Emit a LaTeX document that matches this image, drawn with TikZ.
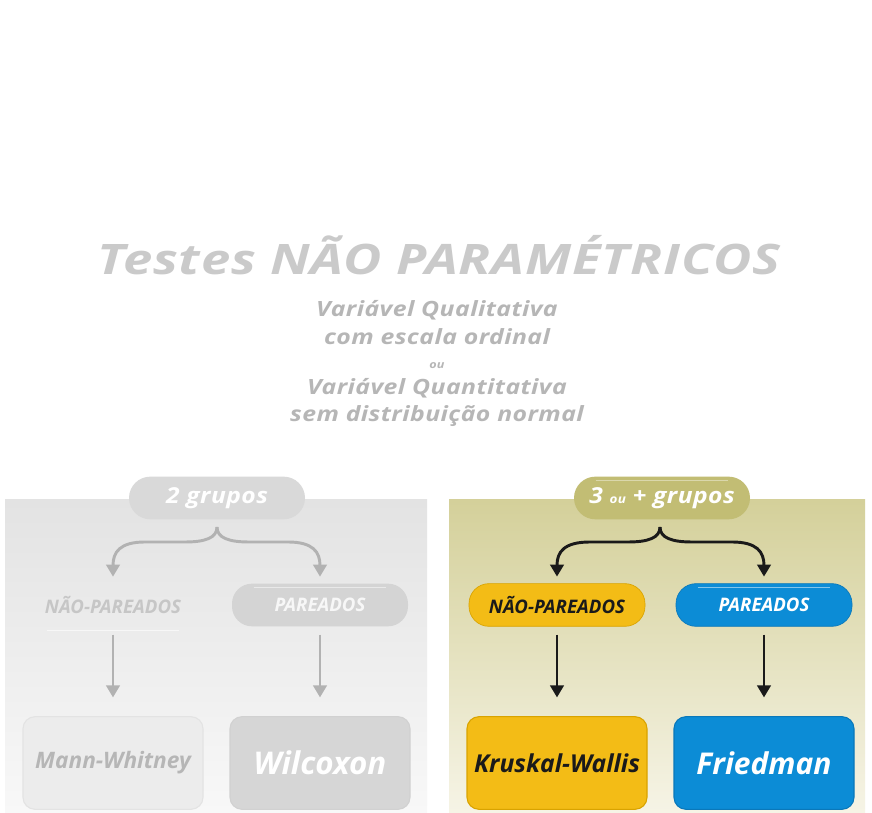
\documentclass[tikz,border=0pt]{standalone}
\usepackage{fontspec}
\setmainfont{Open Sans}
\newfontfamily\titlef[FakeStretch=1.25,LetterSpace=2]{Open Sans}
\newfontfamily\subf[FakeStretch=1.18,LetterSpace=2]{Open Sans}
\newfontfamily\grpf[FakeStretch=1.12,LetterSpace=2]{Open Sans}
\usetikzlibrary{arrows.meta,calc}
\definecolor{titlegray}{HTML}{CACACA}
\definecolor{subgray}{HTML}{B6B6B6}
\definecolor{lpTop}{HTML}{E3E3E3}
\definecolor{lpBot}{HTML}{F8F8F8}
\definecolor{rpTop}{HTML}{D4D09A}
\definecolor{rpBot}{HTML}{F6F4E6}
\definecolor{olive}{HTML}{C2BD74}
\definecolor{yel}{HTML}{F3BC16}
\definecolor{yelB}{HTML}{D9A300}
\definecolor{blu}{HTML}{0C8CD6}
\definecolor{bluB}{HTML}{0A78BA}
\definecolor{garr}{HTML}{B2B2B2}
\definecolor{darr}{HTML}{1A1A1A}
\tikzset{
  pill/.style={rounded corners=15pt,minimum width=132pt,minimum height=32pt,inner sep=0pt,font=\bfseries\itshape\fontsize{14}{16}\selectfont},
  grpill/.style={rounded corners=16pt,minimum width=132pt,minimum height=32pt,inner sep=0pt,font=\grpf\bfseries\itshape\fontsize{16.5}{19}\selectfont,text=white},
  tbox/.style={rounded corners=9pt,minimum width=135pt,minimum height=69.5pt,inner sep=0pt,line width=0.8pt,font=\bfseries\itshape},
  garrow/.style={draw=garr,line width=2.2pt,-{Triangle[length=9pt,width=10pt]}},
  darrow/.style={draw=darr,line width=2.2pt,-{Triangle[length=9pt,width=10pt]}},
  subtxt/.style={anchor=base,text=subgray,font=\subf\bfseries\itshape\fontsize{15.75}{18}\selectfont}
}
\begin{document}
\begin{tikzpicture}[x=0.75pt,y=0.75pt]
\useasboundingbox (0,0) rectangle (872,813);
\fill[white] (0,0) rectangle (872,813);
% title
\node[anchor=base,text=titlegray,font=\titlef\bfseries\itshape\fontsize{31.5}{36}\selectfont] (title) at (439,538) {Testes NÃO PARAMÉTRICOS};
\node[subtxt] (s1) at (437,496) {Variável Qualitativa};
\node[subtxt] (s2) at (437,468) {com escala ordinal};
\node[subtxt,font=\subf\bfseries\itshape\fontsize{8}{9}\selectfont] (s3) at (437,444) {ou};
\node[subtxt] (s4) at (437,418) {Variável Quantitativa};
\node[subtxt] (s5) at (437,391) {sem distribuição normal};
% panels
\shade[top color=lpTop,bottom color=lpBot] (5,0) rectangle (427,313);
\shade[top color=rpTop,bottom color=rpBot] (449,0) rectangle (865,313);
% group pills
\node[grpill,fill=gray!30!white] (g2) at (217,315) {2 grupos};
\node[grpill,fill=olive] (g3) at (662,315) {3 {\fontsize{9}{10}\selectfont ou} + grupos};
% second-level
\node[pill,text=gray!45!white] (npL) at (113,208) {NÃO-PAREADOS};
\node[pill,fill=gray!34!white,text=white!94!gray] (pL) at (320,208) {PAREADOS};
\node[pill,fill=yel,draw=yelB,line width=0.5pt,text=darr] (npR) at (557,208) {NÃO-PAREADOS};
\node[pill,fill=blu,draw=bluB,line width=0.5pt,text=white] (pR) at (764,208) {PAREADOS};
% highlights
\draw[white,opacity=0.5,line width=1.2pt] ($(pL.north west)+(22,-4)$) -- ($(pL.north east)+(-22,-4)$);
\draw[white,opacity=0.5,line width=1.2pt] ($(pR.north west)+(22,-4)$) -- ($(pR.north east)+(-22,-4)$);
\draw[white,opacity=0.4,line width=1.2pt] ($(g3.north west)+(22,-4)$) -- ($(g3.north east)+(-22,-4)$);
\draw[white,opacity=0.6,line width=0.8pt] ($(npL.south west)+(22,-4)$) -- ($(npL.south east)+(-22,-4)$);
% result boxes
\node[tbox,fill=gray!15!white,draw=gray!22!white,text=subgray,font=\bfseries\itshape\fontsize{17}{20}\selectfont] (mw) at (113,50) {Mann-Whitney};
\node[tbox,fill=gray!32!white,draw=gray!36!white,text=white,font=\bfseries\itshape\fontsize{23.5}{27}\selectfont] (wil) at (320,50) {Wilcoxon};
\node[tbox,fill=yel,draw=yelB,text=darr,font=\bfseries\itshape\fontsize{18.5}{22}\selectfont] (kw) at (557,50) {Kruskal-Wallis};
\node[tbox,fill=blu,draw=bluB,text=white,font=\bfseries\itshape\fontsize{22.5}{26}\selectfont] (fr) at (764,50) {Friedman};
% brace coordinates
\coordinate (c2) at (217,286);
\coordinate (c2l) at (185,271);
\coordinate (c2r) at (249,271);
\coordinate (c3) at (660,286);
\coordinate (c3l) at (628,271);
\coordinate (c3r) at (692,271);
% brace arrows
\draw[garrow,shorten >=5pt] (c2) .. controls (217,275) and (205,271) .. (c2l) -- (145,271) .. controls (120,271) and (113,261) .. (npL.north);
\draw[garrow,shorten >=5pt] (c2) .. controls (217,275) and (229,271) .. (c2r) -- (288,271) .. controls (313,271) and (320,261) .. (pL.north);
\draw[darrow,shorten >=5pt] (c3) .. controls (660,275) and (648,271) .. (c3l) -- (590,271) .. controls (564,271) and (557,261) .. (npR.north);
\draw[darrow,shorten >=5pt] (c3) .. controls (660,275) and (672,271) .. (c3r) -- (732,271) .. controls (757,271) and (764,261) .. (pR.north);
% vertical arrows
\draw[garrow,shorten <=6pt,shorten >=14pt] (npL.south) -- (mw.north);
\draw[garrow,shorten <=6pt,shorten >=14pt] (pL.south) -- (wil.north);
\draw[darrow,shorten <=6pt,shorten >=14pt] (npR.south) -- (kw.north);
\draw[darrow,shorten <=6pt,shorten >=14pt] (pR.south) -- (fr.north);
\end{tikzpicture}
\end{document}
